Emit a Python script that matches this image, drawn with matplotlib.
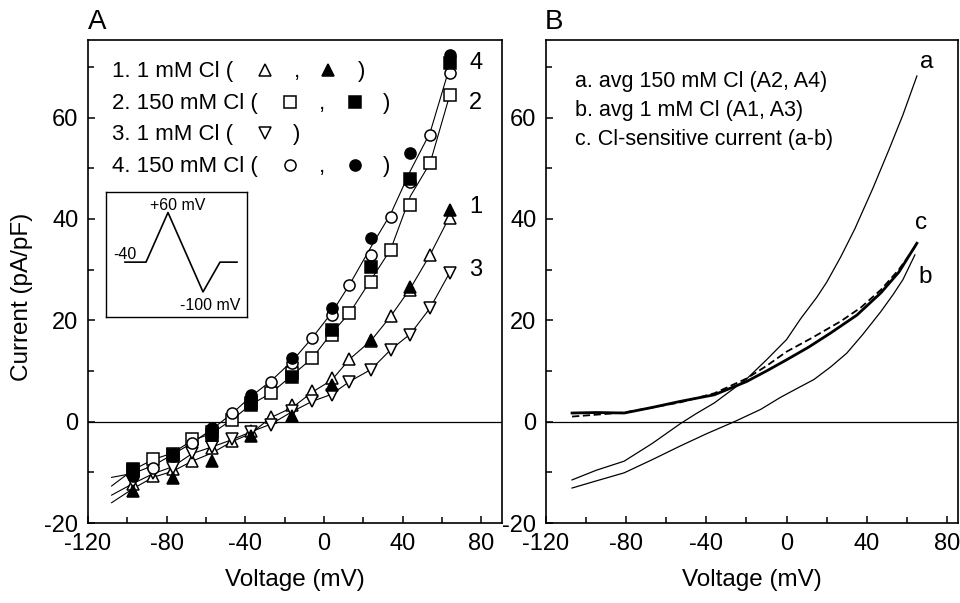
import matplotlib
matplotlib.use('Agg')
import matplotlib.pyplot as plt
from matplotlib.ticker import MultipleLocator

plt.rcParams['font.family'] = ['Liberation Sans', 'DejaVu Sans']
plt.rcParams['axes.unicode_minus'] = False

# ---- panel A: sampled I-V points (mV, pA/pF) ----
v_open = [-97, -87, -77, -67, -57, -47, -37, -27, -16, -6, 4, 13, 24, 34, 44, 54, 64]
v_filled = [-97, -77, -57, -37, -16, 4, 24, 44, 64]

tri_open = [-12.4, -10.8, -9.4, -7.8, -5.2, -3.9, -1.9, 1.0, 3.2, 6.0, 8.6, 12.4, 16.0, 20.8, 26.0, 32.9, 40.2]
tri_filled = [-13.7, -11.2, -7.8, -2.9, 1.1, 7.3, 16.2, 26.5, 41.8]
sq_open = [-9.6, -7.4, -6.3, -3.5, -2.0, 0.4, 3.6, 5.6, 9.6, 12.5, 17.1, 21.4, 27.5, 33.9, 42.8, 51.0, 64.4]
sq_filled = [-9.4, -6.6, -2.6, 3.3, 8.9, 18.1, 30.6, 47.9, 70.7]
inv_open = [-12.0, -10.2, -9.2, -6.1, -5.0, -3.5, -2.0, -0.6, 2.0, 4.0, 5.3, 7.9, 10.2, 14.2, 17.1, 22.4, 29.4]
circ_open = [-10.4, -9.1, -6.8, -4.2, -1.6, 1.7, 4.8, 7.9, 11.6, 16.5, 21.1, 27.0, 32.9, 40.3, 47.3, 56.6, 68.7]
circ_filled = [-10.7, -6.4, -1.2, 5.3, 12.5, 22.4, 36.3, 53.0, 72.3]

# continuous ramp traces, panel A
v_trace = [-108, -97, -87, -77, -67, -57, -47, -37, -27, -16, -6, 4, 13, 24, 34, 44, 54, 64]
trace1 = [-16.0, -13.2, -11.0, -9.8, -7.8, -6.2, -4.0, -2.3, 0.8, 2.8, 5.8, 8.2, 12.3, 16.0, 20.8, 26.3, 32.9, 40.5]
trace2 = [-12.7, -9.5, -7.5, -6.2, -3.7, -2.3, 0.3, 3.4, 5.6, 9.2, 12.5, 17.5, 21.4, 28.0, 34.0, 44.5, 51.0, 64.4]
trace3 = [-14.5, -12.2, -10.3, -8.9, -6.3, -5.0, -3.6, -2.0, -0.5, 2.0, 4.0, 5.4, 7.9, 10.3, 14.2, 17.3, 22.4, 29.4]
trace4 = [-11.0, -10.2, -8.7, -6.5, -4.2, -1.5, 1.5, 5.0, 8.0, 12.0, 16.5, 21.5, 27.0, 34.5, 41.0, 49.5, 57.0, 70.0]

# inset voltage protocol
inset_t = [19, 40, 62, 97, 114, 131]
inset_mv = [-40, -40, 60, -100, -40, -40]

# ---- panel B ----
va_ = [-107, -95, -81, -67, -53, -45, -36, -20, -10, 0, 7, 15, 20, 27, 34, 43, 51, 58, 65]
avg150 = [-11.5, -9.6, -7.8, -4.3, -0.4, 1.6, 3.7, 8.4, 12.2, 16.2, 20.3, 24.5, 27.5, 32.5, 38.0, 46.0, 53.6, 60.5, 68.2]
vb_ = [-107, -95, -81, -67, -53, -40, -26, -13, -3, 5, 13.6, 22, 30, 38, 47, 53, 58, 64]
avg1 = [-13.1, -11.7, -10.1, -7.5, -4.8, -2.4, 0.0, 2.4, 4.8, 6.5, 8.3, 10.8, 13.5, 17.2, 21.7, 25.0, 28.0, 32.9]
vc_ = [-107, -95, -81, -67, -53, -36, -20, -10, 0, 11, 22, 35, 47, 56, 65]
cl_sens = [1.7, 1.8, 1.7, 2.8, 4.0, 5.3, 7.9, 10.0, 12.2, 14.7, 17.5, 21.0, 25.4, 29.5, 35.2]
vd_ = [-107, -81, -53, -36, -20, -10, 0, 13, 27, 37, 47, 56, 65]
cl_fit = [1.0, 1.8, 3.8, 5.6, 8.5, 11.0, 13.8, 16.6, 19.8, 22.5, 26.0, 30.0, 35.0]

fig = plt.figure(figsize=(9.6, 6.03), dpi=100)
axA = fig.add_axes([88/960, 80/603, 414/960, 483/603])
axB = fig.add_axes([546/960, 80/603, 412/960, 483/603])

for ax, xmax in ((axA, 90.6), (axB, 85.5)):
    ax.set_xlim(-120, xmax)
    ax.set_ylim(-20, 75.3)
    ax.xaxis.set_major_locator(MultipleLocator(40))
    ax.xaxis.set_minor_locator(MultipleLocator(20))
    ax.yaxis.set_major_locator(MultipleLocator(20))
    ax.yaxis.set_minor_locator(MultipleLocator(10))
    ax.tick_params(which='both', direction='in', labelsize=17, width=1.1, pad=7)
    ax.tick_params(which='major', length=5)
    ax.tick_params(which='minor', length=4)
    for s in ax.spines.values():
        s.set_linewidth(1.2)
    ax.axhline(0, color='k', lw=0.9, zorder=1)
    ax.set_xlabel('Voltage (mV)', fontsize=17.5)
    ax.xaxis.set_label_coords(0.5, -0.095)

fig.text(22/960, (603-297)/603, 'Current (pA/pF)', rotation=90, ha='center', va='center', fontsize=17.5)
fig.text(88/960, 581/603, 'A', fontsize=20, ha='left', va='center')
fig.text(545/960, 581/603, 'B', fontsize=20, ha='left', va='center')

# panel A traces and symbols
for tr in (trace1, trace2, trace3, trace4):
    axA.plot(v_trace, tr, color='k', lw=0.8, zorder=2)

mk = dict(color='k', ls='none', mew=1.1, zorder=3)
axA.plot(v_open, tri_open, marker='^', ms=9, mfc='white', **mk)
axA.plot(v_open, inv_open, marker='v', ms=9, mfc='white', **mk)
axA.plot(v_open, sq_open, marker='s', ms=8, mfc='white', **mk)
axA.plot(v_open, circ_open, marker='o', ms=8, mfc='white', **mk)
axA.plot(v_filled, tri_filled, marker='^', ms=9, mfc='k', **mk)
axA.plot(v_filled, sq_filled, marker='s', ms=8, mfc='k', **mk)
axA.plot(v_filled, circ_filled, marker='o', ms=8, mfc='k', **mk)

for lab, y in (('4', 70.7), ('2', 62.9), ('1', 42.4), ('3', 30.0)):
    axA.text(74, y, lab, fontsize=17, ha='left', va='center')

# legend built by hand, "( open , filled )"
leg_rows = [
    ('1. 1 mM Cl (', 0.938, [(0.4275, '^', 'white'), (0.580, '^', 'k')], [0.505], 0.662),
    ('2. 150 mM Cl (', 0.872, [(0.488, 's', 'white'), (0.645, 's', 'k')], [0.565], 0.722),
    ('3. 1 mM Cl (', 0.807, [(0.4275, 'v', 'white')], [], 0.505),
    ('4. 150 mM Cl (', 0.741, [(0.488, 'o', 'white'), (0.645, 'o', 'k')], [0.565], 0.722),
]
for txt, y, marks, commas, close in leg_rows:
    yb = y - 0.0145
    axA.text(0.058, yb, txt, transform=axA.transAxes, fontsize=16, va='baseline')
    for x, m, fc in marks:
        axA.plot([x], [y], transform=axA.transAxes, marker=m, ms=8 if m in 'so' else 9,
                 mfc=fc, mec='k', mew=1.1, ls='none', clip_on=False)
    for x in commas:
        axA.text(x, yb, ',', transform=axA.transAxes, fontsize=16, va='baseline', ha='center')
    axA.text(close, yb, ')', transform=axA.transAxes, fontsize=16, va='baseline', ha='center')

# inset protocol
axI = fig.add_axes([106/960, (603-316.7)/603, 141.3/960, 125/603])
axI.plot(inset_t, inset_mv, color='k', lw=1.2)
axI.set_xlim(0, 141.3)
axI.set_ylim(-150, 102)
axI.set_xticks([])
axI.set_yticks([])
for s in axI.spines.values():
    s.set_linewidth(1.0)
axI.text(72, 74, '+60 mV', fontsize=11.5, ha='center', va='center')
axI.text(7, -24, '-40', fontsize=11.5, ha='left', va='center')
axI.text(104, -127, '-100 mV', fontsize=11.5, ha='center', va='center')

# panel B
axB.plot(va_, avg150, color='k', lw=0.9)
axB.plot(vb_, avg1, color='k', lw=0.9)
axB.plot(vd_, cl_fit, color='k', lw=1.3, dashes=(4, 2))
axB.plot(vc_, cl_sens, color='k', lw=2.0)
axB.text(70, 71, 'a', fontsize=17.5, ha='center', va='center')
axB.text(67, 39.1, 'c', fontsize=17.5, ha='center', va='center')
axB.text(69, 28.6, 'b', fontsize=17.5, ha='center', va='center')

b_leg = ['a. avg 150 mM Cl (A2, A4)', 'b. avg 1 mM Cl (A1, A3)', 'c. Cl-sensitive current (a-b)']
for i, t in enumerate(b_leg):
    axB.text(0.070, 0.914 - i * 0.0605, t, transform=axB.transAxes, fontsize=15.5, va='center')

fig.savefig('out.png', dpi=100)
